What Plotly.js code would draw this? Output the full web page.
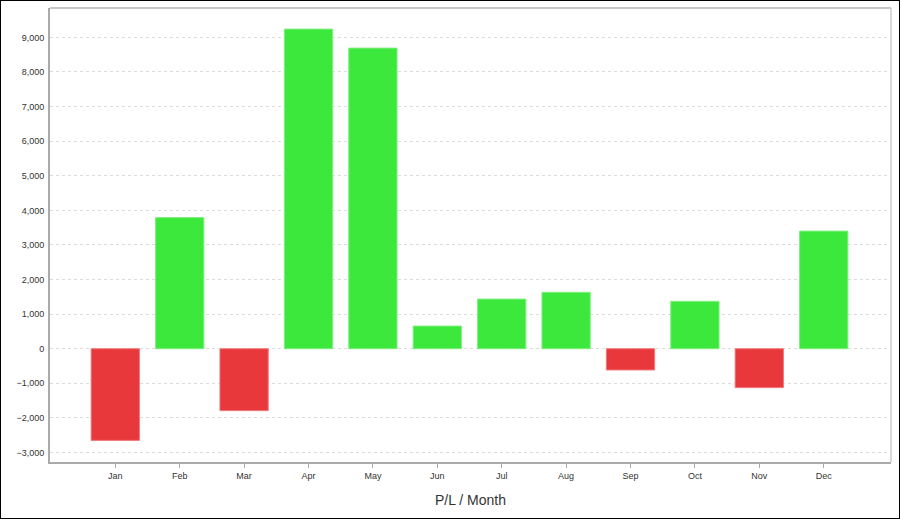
<!DOCTYPE html>
<html>
<head>
<meta charset="utf-8">
<script src="https://cdn.plot.ly/plotly-3.0.1.min.js"></script>
<style>
html,body{margin:0;padding:0;background:#fff;}
#wrap{width:898px;height:517px;border:1px solid #000;}
#chart{width:898px;height:517px;}
</style>
</head>
<body>
<div id="wrap"><div id="chart"></div></div>
<script>
const months = ['Jan','Feb','Mar','Apr','May','Jun','Jul','Aug','Sep','Oct','Nov','Dec'];
const pl = [-2650, 3790, -1790, 9240, 8690, 655, 1435, 1630, -615, 1370, -1125, 3400];
const yTicks = [-3000,-2000,-1000,0,1000,2000,3000,4000,5000,6000,7000,8000,9000];
const greenColor = '#3de83d';
const redColor = '#e8383c';

const colors = pl.map(v => v >= 0 ? greenColor : redColor);
const edges = pl.map(v => v >= 0 ? '#7ef07e' : '#f07a7c');

const trace = {
  type: 'bar',
  x: months,
  y: pl,
  width: 0.75,
  marker: {color: colors, line: {color: edges, width: 1}},
  hoverinfo: 'x+y'
};

const layout = {
  width: 898, height: 517,
  margin: {l: 49, r: 8, t: 7, b: 56},
  paper_bgcolor: '#fff',
  plot_bgcolor: '#fff',
  showlegend: false,
  font: {family: 'Liberation Sans, Arial, sans-serif', size: 9, color: '#333'},
  xaxis: {
    type: 'category',
    range: [-1.014, 12.045],
    showgrid: false,
    showline: true, linecolor: '#aaaaaa', linewidth: 2, mirror: false,
    ticks: 'outside', ticklen: 4, tickcolor: '#aaaaaa', tickwidth: 1,
    tickfont: {size: 9, color: '#333'},
    title: {text: 'P/L / Month', font: {size: 14, color: '#333'}, standoff: 15}
  },
  yaxis: {
    range: [-3275, 9850],
    tickvals: yTicks,
    tickformat: ',d',
    showgrid: true, gridcolor: '#dcdcdc', griddash: '3px,3px', gridwidth: 1,
    zeroline: false,
    showline: true, linecolor: '#aaaaaa', linewidth: 2,
    ticks: '', ticklabelstandoff: 2,
    tickfont: {size: 9, color: '#333'}
  },
  shapes: [
    {type: 'line', xref: 'paper', yref: 'paper', x0: 0, x1: 1, y0: 1, y1: 1, line: {color: '#b4b4b4', width: 1.5}},
    {type: 'line', xref: 'paper', yref: 'paper', x0: 1, x1: 1, y0: 0, y1: 1, line: {color: '#cccccc', width: 1.5}}
  ]
};

Plotly.newPlot('chart', [trace], layout, {displayModeBar: false, staticPlot: true});
</script>
</body>
</html>
